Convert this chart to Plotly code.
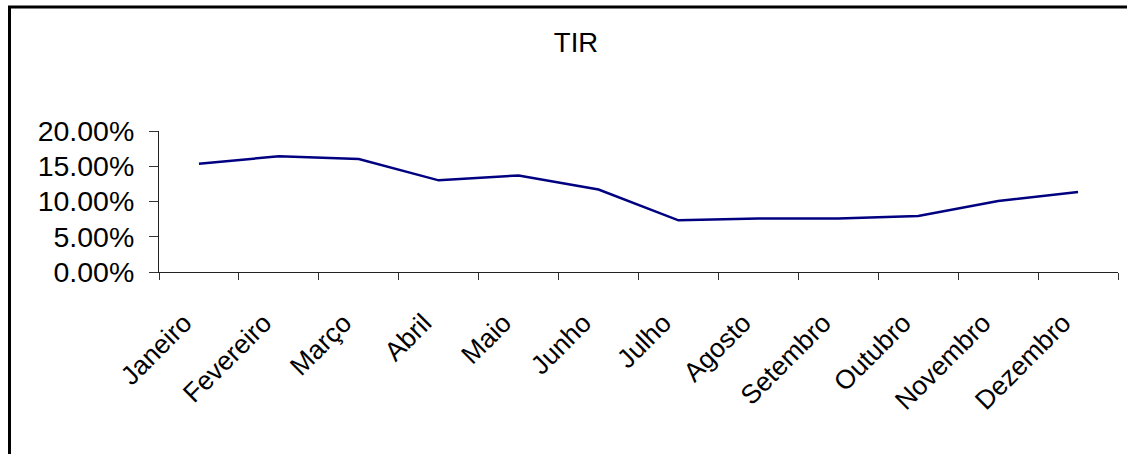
import plotly.graph_objects as go

months = ["Janeiro", "Fevereiro", "Março", "Abril", "Maio", "Junho",
          "Julho", "Agosto", "Setembro", "Outubro", "Novembro", "Dezembro"]
tir = [0.1536, 0.1641, 0.1603, 0.1300, 0.1370, 0.1170,
       0.0733, 0.0760, 0.0760, 0.0794, 0.1007, 0.1135]
y_ticks = [0.0, 0.05, 0.10, 0.15, 0.20]

W, H = 1127, 454
L, R, T, B = 159, 9, 131, 182
pw = W - L - R
ph = H - T - B

FONT = "Arial, Liberation Sans, sans-serif"

fig = go.Figure()
fig.add_trace(go.Scatter(
    x=months, y=tir, mode="lines",
    line=dict(color="#000080", width=2.5),
    showlegend=False, hoverinfo="skip",
))

# outer chart border (cropped at right and bottom)
fig.add_shape(
    type="rect", xref="paper", yref="paper",
    x0=(9.5 - L) / pw, x1=(W + 20 - L) / pw,
    y0=-(H + 20 - (T + ph)) / ph, y1=(T + ph - 7) / ph,
    line=dict(color="black", width=3), fillcolor="rgba(0,0,0,0)",
    layer="below",
)

fig.update_layout(
    width=W, height=H,
    margin=dict(l=L, r=R, t=T, b=B, pad=0),
    paper_bgcolor="white", plot_bgcolor="white",
    font=dict(family=FONT, color="black", size=27),
    title=dict(text="TIR", x=576 / W, xref="container", xanchor="center",
               y=1 - 42 / H, yref="container", yanchor="middle",
               font=dict(family=FONT, size=27.5, color="black")),
    xaxis=dict(
        type="category", range=[-0.5, 11.5],
        showgrid=False, zeroline=False,
        showline=True, linecolor="#222", linewidth=1,
        ticks="outside", tickson="boundaries", ticklen=7,
        tickcolor="#333", tickwidth=1,
        tickangle=-45, tickfont=dict(family=FONT, size=26.5, color="black"),
        ticklabelstandoff=24, ticklabelshift=-15,
    ),
    yaxis=dict(
        range=[0, 0.2], tickvals=y_ticks, tickformat=".2%",
        showgrid=False, zeroline=False,
        showline=True, linecolor="#222", linewidth=1,
        ticks="outside", ticklen=9, tickcolor="#333", tickwidth=1,
        tickfont=dict(family=FONT, size=28.5, color="black"),
        ticklabelstandoff=9,
    ),
)

fig.write_html(
    "out.html",
    config={"displayModeBar": False, "staticPlot": True},
    post_script="document.body.style.margin='0';document.body.style.overflow='hidden';",
)
